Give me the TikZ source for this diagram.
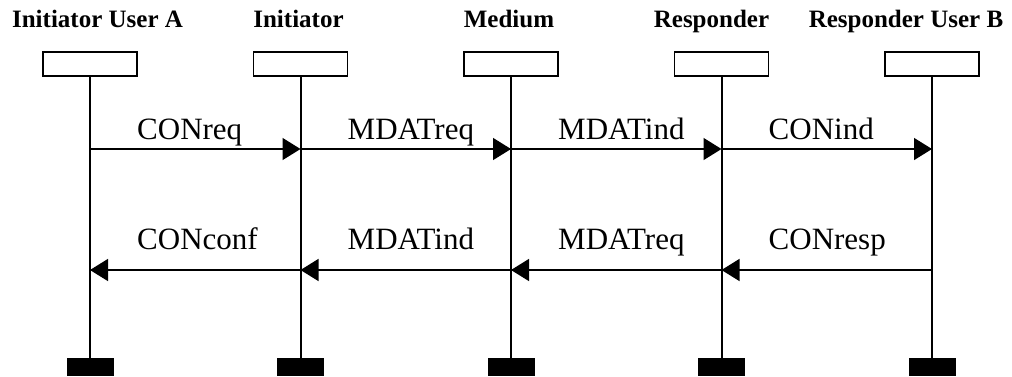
\documentclass[tikz,border=0pt]{standalone}
\usepackage{fontspec}
\setmainfont{Liberation Serif}
\usetikzlibrary{arrows.meta}

\begin{document}
\begin{tikzpicture}[
      x=1pt, y=-1pt,
      head/.style={draw, line width=1.9pt, minimum width=94pt, minimum height=24pt, inner sep=0pt},
      foot/.style={fill=black, minimum width=47pt, minimum height=18pt, inner sep=0pt},
      life/.style={line width=2pt},
      msg/.style={-{Triangle[length=18pt,width=22pt]}, line width=1.4pt},
      title/.style={font=\fontsize{25}{30}\selectfont\bfseries, anchor=base, inner sep=0pt},
      lbl/.style={font=\fontsize{31}{36}\selectfont, anchor=base west, inner sep=0pt}
    ]
      \useasboundingbox (0,0) rectangle (1012,376);
      % lifelines with head and foot boxes
      \foreach \n/\x in {ua/90, ini/300.5, med/511, res/721.5, ub/932}{
        \node[head] (h\n) at (\x,64) {};
        \node[foot] (f\n) at (\x,367) {};
        \draw[life] (h\n.south) -- (f\n.north);
        \coordinate (\n1) at (\x,149);
        \coordinate (\n2) at (\x,270);
      }
      \node[title] (tua)  at (97.5,27)  {Initiator User A};
      \node[title] (tini) at (298.5,27) {Initiator};
      \node[title] (tmed) at (509,27)   {Medium};
      \node[title] (tres) at (711.5,27) {Responder};
      \node[title] (tub)  at (906,27)   {Responder User B};
      % connect request chain
      \foreach \a/\b/\t in {ua/ini/CONreq, ini/med/MDATreq, med/res/MDATind, res/ub/CONind}{
        \draw[msg] (\a1) -- (\b1);
        \node[lbl, xshift=47pt, yshift=10pt] (q\a) at (\a1) {\t};
      }
      % confirmation chain back
      \foreach \a/\b/\t in {ua/ini/CONconf, ini/med/MDATind, med/res/MDATreq, res/ub/CONresp}{
        \draw[msg] (\b2) -- (\a2);
        \node[lbl, xshift=47pt, yshift=21pt] (c\a) at (\a2) {\t};
      }
    \end{tikzpicture}
\end{document}
